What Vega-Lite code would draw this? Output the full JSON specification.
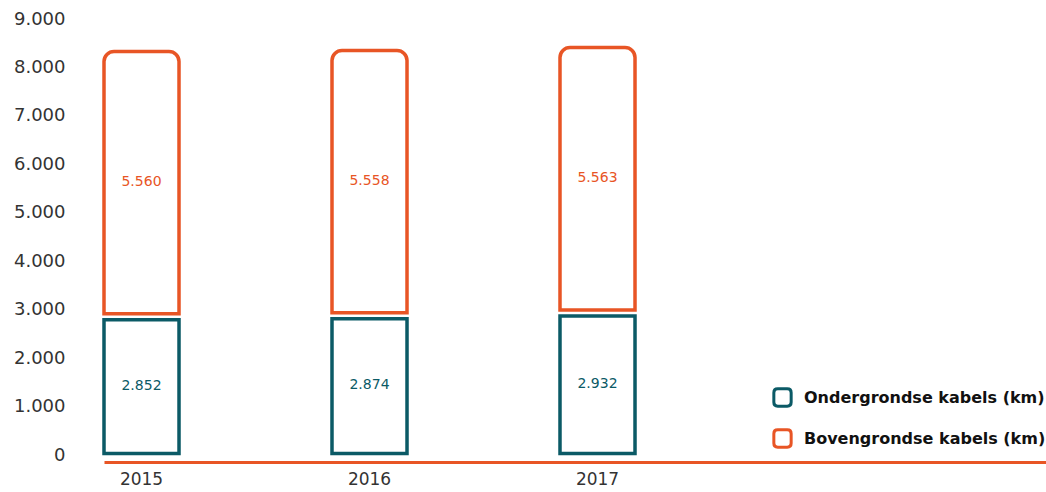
{
  "$schema": "https://vega.github.io/schema/vega-lite/v6.json",
  "width": 942,
  "height": 436,
  "autosize": {"type": "none"},
  "padding": {"left": 104, "top": 19, "right": 0, "bottom": 37},
  "background": "white",
  "config": {
    "view": {"stroke": null},
    "font": "DejaVu Sans",
    "locale": {"number": {"decimal": ",", "thousands": ".", "grouping": [3], "currency": ["€", ""]}}
  },
  "data": {
    "values": [
      {"year": "2015", "type": "Ondergrondse kabels (km)", "value": 2852},
      {"year": "2015", "type": "Bovengrondse kabels (km)", "value": 5560},
      {"year": "2016", "type": "Ondergrondse kabels (km)", "value": 2874},
      {"year": "2016", "type": "Bovengrondse kabels (km)", "value": 5558},
      {"year": "2017", "type": "Ondergrondse kabels (km)", "value": 2932},
      {"year": "2017", "type": "Bovengrondse kabels (km)", "value": 5563}
    ]
  },
  "transform": [
    {"stack": "value", "groupby": ["year"], "sort": [{"field": "type", "order": "descending"}], "as": ["y0", "y1"]},
    {"calculate": "(datum.y0 + datum.y1) / 2", "as": "mid"}
  ],
  "encoding": {
    "x": {
      "field": "year",
      "type": "nominal",
      "scale": {"paddingInner": 0.671, "paddingOuter": 0.9013, "align": 0},
      "axis": {
        "title": null,
        "labelAngle": 0,
        "ticks": false,
        "tickSize": 0,
        "offset": 7,
        "domainColor": "#e85525",
        "domainWidth": 3,
        "labelFontSize": 17,
        "labelColor": "#333333",
        "labelPadding": 9
      }
    }
  },
  "layer": [
    {
      "transform": [{"filter": "datum.type == 'Ondergrondse kabels (km)'"}],
      "mark": {"type": "bar", "fill": "white", "strokeWidth": 3.5, "yOffset": 3, "y2Offset": -1.5},
      "encoding": {
        "y": {
          "field": "y1",
          "type": "quantitative",
          "scale": {"domain": [0, 9000], "nice": false},
          "axis": {
            "title": null,
            "values": [0, 1000, 2000, 3000, 4000, 5000, 6000, 7000, 8000, 9000],
            "format": ",d",
            "grid": false,
            "domain": false,
            "ticks": false,
            "labelFontSize": 18,
            "labelColor": "#333333",
            "labelPadding": 39
          }
        },
        "y2": {"field": "y0"},
        "stroke": {
          "field": "type",
          "type": "nominal",
          "scale": {"domain": ["Ondergrondse kabels (km)", "Bovengrondse kabels (km)"], "range": ["#0b5a66", "#e85525"]},
          "legend": {
            "title": null,
            "orient": "none",
            "legendX": 668,
            "legendY": 368,
            "padding": 0,
            "symbolType": "M -0.55,-1 L 0.55,-1 Q 1,-1 1,-0.55 L 1,0.55 Q 1,1 0.55,1 L -0.55,1 Q -1,1 -1,0.55 L -1,-0.55 Q -1,-1 -0.55,-1 Z",
            "symbolSize": 300,
            "symbolStrokeWidth": 3,
            "symbolFillColor": "white",
            "labelFontSize": 16,
            "labelFontWeight": "bold",
            "labelColor": "#111111",
            "labelOffset": 11,
            "rowPadding": 10,
            "labelLimit": 400,
            "encode": {"symbols": {"update": {"fill": {"value": "white"}, "strokeWidth": {"value": 3}}}}
          }
        }
      }
    },
    {
      "transform": [{"filter": "datum.type == 'Bovengrondse kabels (km)'"}],
      "mark": {"type": "bar", "fill": "white", "strokeWidth": 3.5, "yOffset": 4, "y2Offset": -3, "cornerRadiusTopLeft": 10, "cornerRadiusTopRight": 10},
      "encoding": {
        "y": {"field": "y1", "type": "quantitative"},
        "y2": {"field": "y0"},
        "stroke": {"field": "type", "type": "nominal"}
      }
    },
    {
      "mark": {"type": "text", "fontSize": 14, "baseline": "middle", "align": "center"},
      "encoding": {
        "y": {"field": "mid", "type": "quantitative"},
        "text": {"field": "value", "type": "quantitative", "format": ",d"},
        "color": {
          "condition": {"test": "datum.type == 'Ondergrondse kabels (km)'", "value": "#0b5a66"},
          "value": "#e85525"
        }
      }
    }
  ]
}
